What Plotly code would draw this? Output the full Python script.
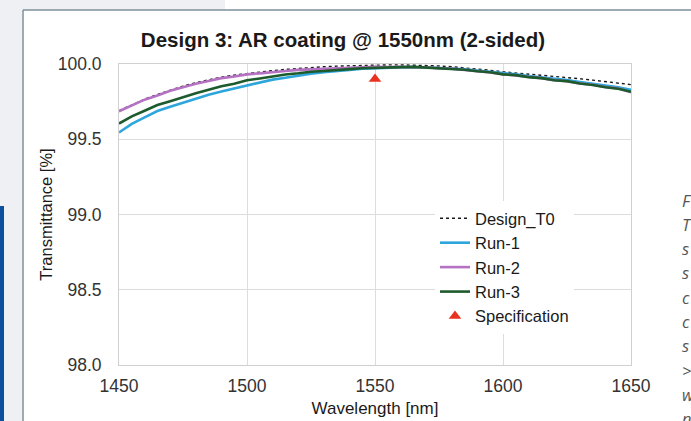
import plotly.graph_objects as go

# ---------------- data ----------------
wavelength = list(range(1450, 1651, 5))

design_t0 = [99.690, 99.730, 99.766, 99.798, 99.827, 99.853, 99.876, 99.896, 99.913, 99.926,
             99.937, 99.947, 99.956, 99.964, 99.971, 99.977, 99.982, 99.986, 99.989, 99.991,
             99.993, 99.994, 99.994, 99.993, 99.991, 99.987, 99.982, 99.975, 99.967, 99.958,
             99.948, 99.941, 99.934, 99.926, 99.918, 99.910, 99.902, 99.893, 99.884, 99.874,
             99.863]

run_1 = [99.545, 99.602, 99.646, 99.688, 99.716, 99.744, 99.771, 99.796, 99.818, 99.838,
         99.859, 99.877, 99.896, 99.909, 99.925, 99.936, 99.945, 99.955, 99.961, 99.969,
         99.972, 99.978, 99.977, 99.980, 99.977, 99.975, 99.970, 99.964, 99.956, 99.949,
         99.937, 99.931, 99.920, 99.912, 99.900, 99.893, 99.880, 99.870, 99.857, 99.846,
         99.828]

run_2 = [99.686, 99.724, 99.763, 99.791, 99.822, 99.845, 99.869, 99.887, 99.906, 99.917,
         99.931, 99.938, 99.948, 99.953, 99.961, 99.964, 99.971, 99.972, 99.977, 99.976,
         99.981, 99.979, 99.982, 99.978, 99.978, 99.972, 99.969, 99.960, 99.953, 99.944,
         99.932, 99.925, 99.914, 99.906, 99.893, 99.885, 99.871, 99.862, 99.847, 99.838,
         99.812]

run_3 = [99.604, 99.652, 99.689, 99.727, 99.753, 99.782, 99.806, 99.829, 99.852, 99.869,
         99.892, 99.904, 99.919, 99.930, 99.938, 99.949, 99.953, 99.962, 99.966, 99.972,
         99.976, 99.980, 99.979, 99.981, 99.976, 99.974, 99.967, 99.962, 99.952, 99.945,
         99.931, 99.926, 99.913, 99.906, 99.892, 99.886, 99.870, 99.861, 99.846, 99.836,
         99.815]

spec_wavelength = [1550]
spec_value = [99.9]

x_ticks = [1450, 1500, 1550, 1600, 1650]
y_ticks = [98.0, 98.5, 99.0, 99.5, 100.0]
y_tick_labels = ["98.0", "98.5", "99.0", "99.5", "100.0"]

title_text = "Design 3: AR coating @ 1550nm (2-sided)"
x_title = "Wavelength [nm]"
y_title = "Transmittance [%]"
side_letters = ["F", "T", "s", "s", "c", "c", "s", ">", "w", "n"]

# ---------------- layout geometry ----------------
W, H = 691, 421
L, R, T, B = 119, 60, 64, 56
PW, PH = W - L - R, H - T - B


def px(x):
    return (x - L) / PW


def py(y):
    return (H - B - y) / PH


FONT = "Liberation Sans, Arial, Helvetica, sans-serif"

fig = go.Figure()

fig.add_trace(go.Scatter(x=wavelength, y=design_t0, name="Design_T0", mode="lines",
                         line=dict(color="#1a1a1a", width=1.4, dash="dot"),
                         legendgroup="a"))
fig.add_trace(go.Scatter(x=wavelength, y=run_1, name="Run-1", mode="lines",
                         line=dict(color="#2ea6dc", width=2.6),
                         legendgroup="b"))
fig.add_trace(go.Scatter(x=wavelength, y=run_2, name="Run-2", mode="lines",
                         line=dict(color="#b571c2", width=2.6),
                         legendgroup="c"))
fig.add_trace(go.Scatter(x=wavelength, y=run_3, name="Run-3", mode="lines",
                         line=dict(color="#1d5a2c", width=2.6),
                         legendgroup="d"))
fig.add_trace(go.Scatter(x=spec_wavelength, y=spec_value, name="Specification", mode="markers",
                         marker=dict(symbol="triangle-up", size=11, color="#e8321f"),
                         legendgroup="e"))

shapes = [
    # page decoration around the chart frame
    dict(type="rect", xref="paper", yref="paper", x0=px(0), x1=px(225), y0=py(10), y1=py(0),
         fillcolor="#eef0f3", line=dict(width=0), layer="below"),
    dict(type="rect", xref="paper", yref="paper", x0=px(0), x1=px(22.5), y0=py(421), y1=py(10),
         fillcolor="#eef0f3", line=dict(width=0), layer="below"),
    dict(type="rect", xref="paper", yref="paper", x0=px(0), x1=px(4), y0=py(421), y1=py(206),
         fillcolor="#0d4f9c", line=dict(width=0), layer="below"),
    dict(type="line", xref="paper", yref="paper", x0=px(23), x1=px(691), y0=py(10), y1=py(10),
         line=dict(color="#7d909b", width=1.5)),
    dict(type="line", xref="paper", yref="paper", x0=px(23), x1=px(23), y0=py(10), y1=py(421),
         line=dict(color="#7d909b", width=1.5)),
]

annotations = []
for i, ch in enumerate(side_letters):
    annotations.append(dict(xref="paper", yref="paper", x=px(680), y=py(200 + i * 24.3),
                            xanchor="left", yanchor="middle", showarrow=False, text=ch,
                            font=dict(family="Open Sans, sans-serif", size=16.5, color="#555555",
                                      style="italic")))

fig.update_layout(
    width=W, height=H,
    margin=dict(l=L, r=R, t=T, b=B, pad=0, autoexpand=False),
    paper_bgcolor="white", plot_bgcolor="white",
    font=dict(family=FONT, color="#333333"),
    title=dict(text="<b>" + title_text + "</b>", xref="container", yref="container",
               x=343 / W, y=1 - 40 / H, xanchor="center", yanchor="middle",
               font=dict(size=20.5, color="#1a1a1a", family=FONT)),
    showlegend=True,
    legend=dict(x=px(435), y=py(201), xanchor="left", yanchor="top",
                bgcolor="white", borderwidth=0, tracegroupgap=0,
                font=dict(size=16.5, color="#1a1a1a", family=FONT),
                itemwidth=30),
    shapes=shapes,
    annotations=annotations,
)

fig.update_xaxes(range=[1450, 1650], tickvals=x_ticks, showgrid=True, gridcolor="#dcdcdc",
                 gridwidth=1, zeroline=False, showline=True, linecolor="#d0d0d0", mirror=True,
                 ticks="", tickfont=dict(size=17.5, color="#333333"), ticklabelstandoff=5,
                 automargin=False,
                 title=dict(text=x_title, font=dict(size=17, color="#1a1a1a"), standoff=7))
fig.update_yaxes(range=[98.0, 100.0], tickvals=y_ticks, ticktext=y_tick_labels, showgrid=True,
                 gridcolor="#dcdcdc", gridwidth=1, zeroline=False, showline=True,
                 linecolor="#d0d0d0", mirror=True, ticks="",
                 tickfont=dict(size=17.5, color="#333333"), ticklabelstandoff=13,
                 automargin=False,
                 title=dict(text=y_title, font=dict(size=16.5, color="#1a1a1a"), standoff=0))

fig.write_html("out.html", post_script="document.body.style.margin='0';",
               config={"displayModeBar": False})
